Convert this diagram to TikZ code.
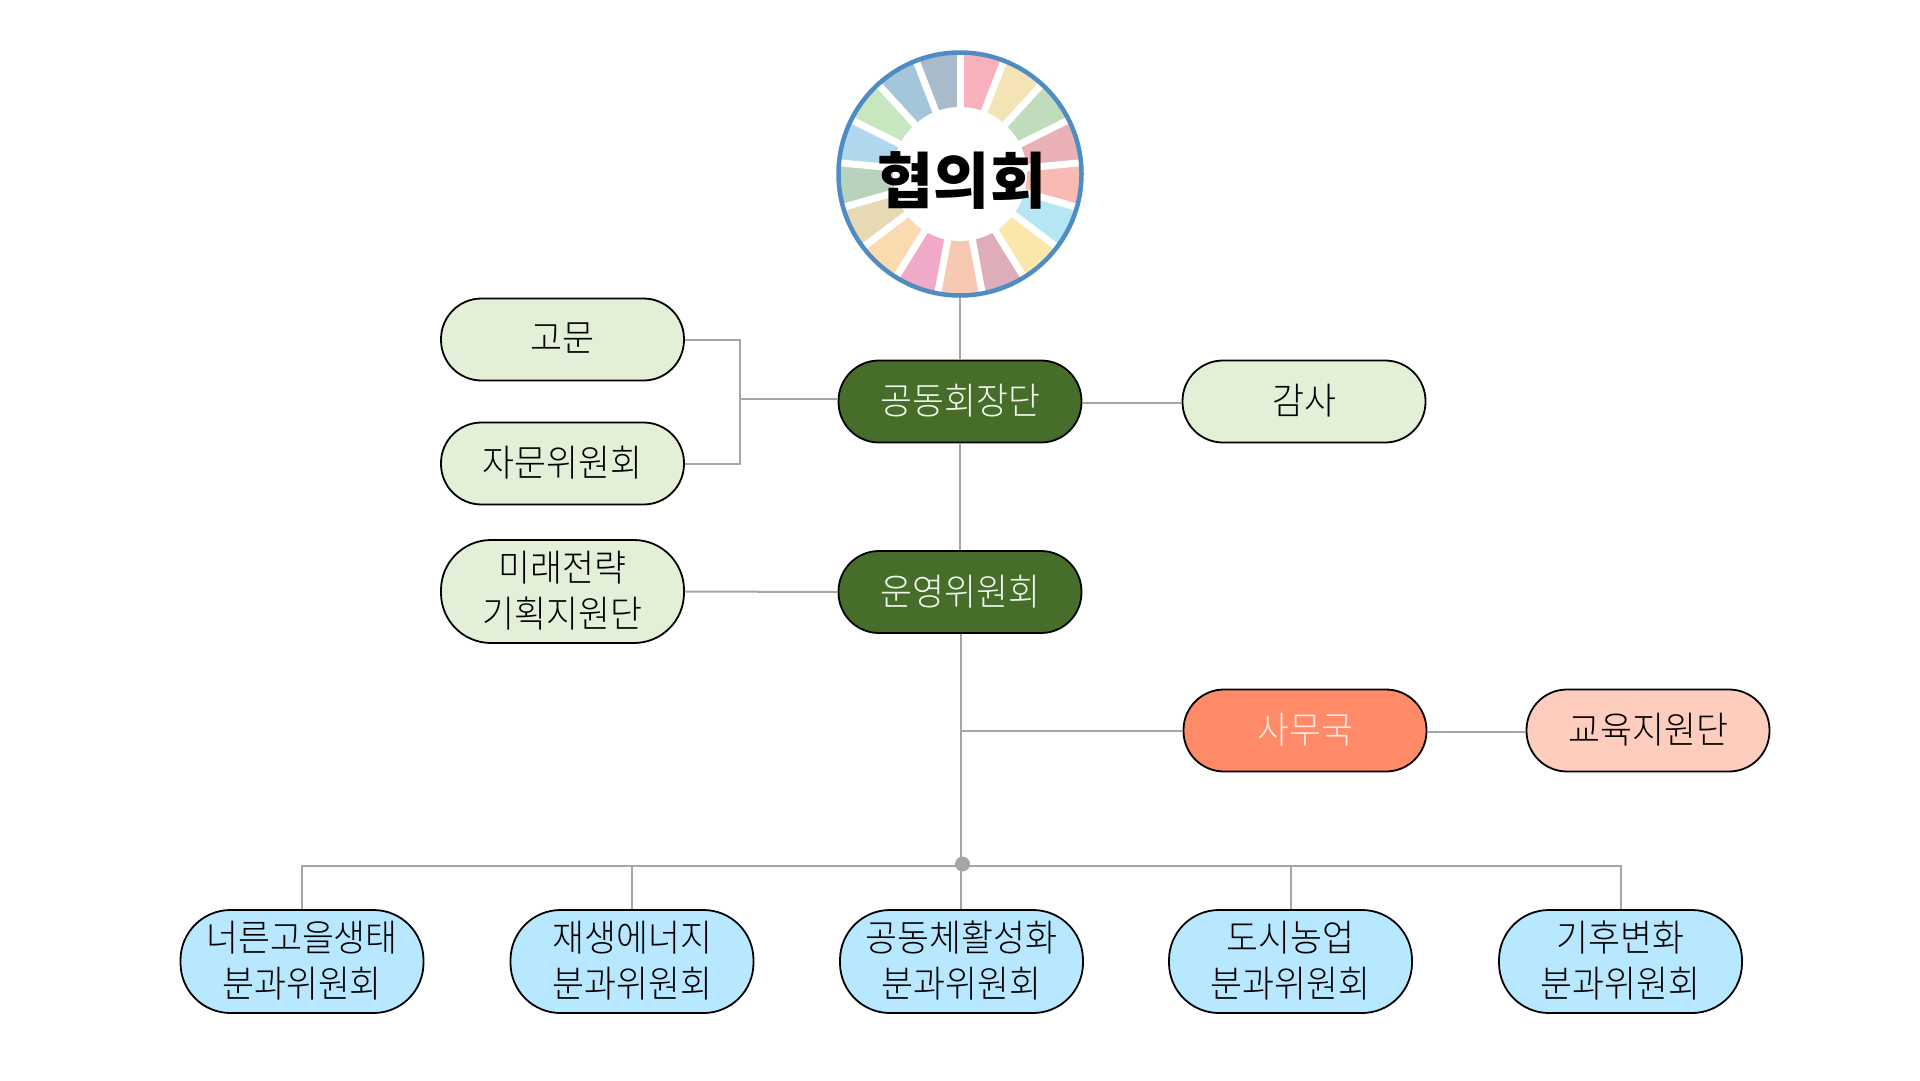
\documentclass[tikz,border=0pt]{standalone}
\usepackage{fontspec}
\newfontfamily\krfont[FakeStretch=0.94]{Noto Sans CJK KR Light}
\newfontfamily\krbold[FakeStretch=1.0]{Noto Sans CJK KR Black}
\definecolor{linegrey}{HTML}{A6A6A6}
\definecolor{ring}{HTML}{4F8CC4}
\definecolor{dkgreen}{HTML}{466D29}
\definecolor{ltgreen}{HTML}{E3F0D7}
\definecolor{ltblue}{HTML}{B8E8FF}
\definecolor{orangeb}{HTML}{FF8A68}
\definecolor{peachb}{HTML}{FFCDBE}
\definecolor{secfont}{HTML}{FFE6DE}
\definecolor{leadfont}{HTML}{F2F8EC}
\newcommand{\oneline}[1]{\raisebox{4pt}{#1}}
\newcommand{\twolines}[2]{\raisebox{0pt}[\dimexpr\height+7.4pt\relax][\depth]{\begin{tabular}{@{}c@{}}#1\\#2\end{tabular}}}
\tikzset{
  pill/.style={draw=black,line width=1.8pt,minimum width=243pt,minimum height=82pt,rounded corners=40.5pt,inner sep=0pt,align=center,font=\krfont\fontsize{37}{46.5}\selectfont},
  tallpill/.style={pill,minimum height=103pt,rounded corners=50pt},
  adv/.style={pill,fill=ltgreen,text=black},
  lead/.style={pill,fill=dkgreen,text=leadfont},
  sec/.style={pill,fill=orangeb,text=secfont},
  edu/.style={pill,fill=peachb,text=black},
  sub/.style={tallpill,fill=ltblue,text=black},
  conn/.style={draw=linegrey,line width=2pt}
}
\begin{document}
\begin{tikzpicture}[x=1pt,y=-1pt]
\useasboundingbox (0,0) rectangle (1920,1080);
\coordinate (hub) at (960,174);
% wheel
\begin{scope}[shift={(hub)},x=1pt,y=1pt]
\def\angstep{21.17647}
\foreach \i/\c in {0/F8B0BC,1/F4E3B5,2/C0DCBC,3/E9B0B5,4/F8BAB5,5/B5E6F3,6/FBE7AA,7/DDADBA,8/F8C9B2,9/F0A9C8,10/FBDAB0,11/E8D9B5,12/B9D2BC,13/AFD8EE,14/C8E6BF,15/A3C6DB,16/A9BBCB}{
  \definecolor{seg}{HTML}{\c}
  \pgfmathsetmacro{\aa}{90-\i*\angstep}
  \pgfmathsetmacro{\ab}{90-(\i+1)*\angstep}
  \fill[seg] (\aa:121pt) arc[start angle=\aa,end angle=\ab,radius=121pt] -- (0,0) -- cycle;
}
\foreach \i in {0,...,16}{
  \pgfmathsetmacro{\aa}{90-\i*\angstep}
  \draw[white,line width=7pt] (0,0) -- (\aa:122pt);
}
\fill[white] (0,0) circle[radius=67pt];
\end{scope}
\node[circle,draw=ring,line width=4.5pt,minimum size=243pt,inner sep=0pt] (council) at (hub) {};
\node[font=\krbold\fontsize{61}{64}\selectfont,text=black] (title) at (962,180) {협의회};
% nodes
\node[adv] (gomun) at (562.5,339.5) {\oneline{고문}};
\node[adv] (jamun) at (562.5,463.5) {\oneline{자문위원회}};
\node[adv,tallpill] (mirae) at (562.5,591.5) {\twolines{미래전략}{기획지원단}};
\node[lead] (cochair) at (960,401.5) {\oneline{공동회장단}};
\node[lead] (steer) at (960,592) {\oneline{운영위원회}};
\node[adv] (audit) at (1304,401.5) {\oneline{감사}};
\node[sec] (office) at (1305,730.5) {\oneline{사무국}};
\node[edu] (edu) at (1648,730.5) {\oneline{교육지원단}};
\node[sub] (s1) at (302,961.5) {\twolines{너른고을생태}{분과위원회}};
\node[sub] (s2) at (632,961.5) {\twolines{재생에너지}{분과위원회}};
\node[sub] (s3) at (961.5,961.5) {\twolines{공동체활성화}{분과위원회}};
\node[sub] (s4) at (1290.5,961.5) {\twolines{도시농업}{분과위원회}};
\node[sub] (s5) at (1620.5,961.5) {\twolines{기후변화}{분과위원회}};
% connectors
\coordinate (brk) at (740,399);
\coordinate (hbus) at (961,865.5);
\coordinate (obr) at (961.3,730.5);
\draw[conn] (council.south) -- (cochair.north);
\draw[conn] (cochair.south) -- (steer.north);
\draw[conn] (gomun.east) -| (brk);
\draw[conn] (jamun.east) -| (brk);
\draw[conn] (brk) -- (cochair.west |- brk);
\draw[conn] (cochair.east |- 0,403) -- (audit.west |- 0,403);
\draw[conn] (mirae.east) -- (steer.west);
\draw[conn] (steer.south -| obr) -- (s3.north -| obr);
\draw[conn] (obr) -- (office.west |- obr);
\draw[conn] (office.east |- 0,732) -- (edu.west |- 0,732);
\draw[conn] (s1.north) |- (hbus);
\draw[conn] (s2.north) |- (hbus);
\draw[conn] (s4.north) |- (hbus);
\draw[conn] (s5.north) |- (hbus);
\node[circle,fill=linegrey,minimum size=15pt,inner sep=0pt] (dot) at (962.5,864) {};
\end{tikzpicture}
\end{document}
